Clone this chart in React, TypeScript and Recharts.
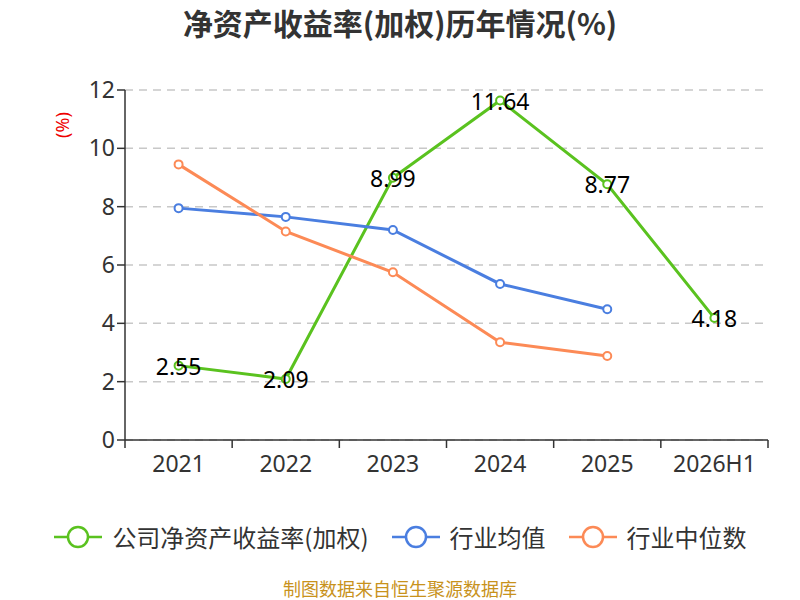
import React from "react";
import { LineChart, Line, XAxis, YAxis, CartesianGrid, LabelList } from "recharts";

const categories = ["2021", "2022", "2023", "2024", "2025", "2026H1"];
const companyRoe = [2.55, 2.09, 8.99, 11.64, 8.77, 4.18];
const industryAvg = [7.95, 7.65, 7.2, 5.35, 4.48, null];
const industryMedian = [9.45, 7.15, 5.75, 3.35, 2.88, null];
const yTicks = [0, 2, 4, 6, 8, 10, 12];

const seriesNames = ["公司净资产收益率(加权)", "行业均值", "行业中位数"];
const colors = ["#5ac21f", "#4a7ee0", "#fc8a56"];

const data = categories.map((c, i) => ({
  name: c,
  company: companyRoe[i],
  avg: industryAvg[i],
  median: industryMedian[i],
}));

const W = 800;
const H = 600;
const margin = { top: 90, right: 32, left: 65, bottom: 120 };
const yAxisWidth = 60;
const plotWidth = W - margin.left - margin.right - yAxisWidth;
const halfBand = plotWidth / categories.length / 2;
const FONT = "'Noto Sans', 'Noto Sans CJK SC', sans-serif";
const CJK = "'Noto Sans CJK SC', sans-serif";

const XTick = (props: any) => {
  const { x, y, payload, index } = props;
  const isLast = index === categories.length - 1;
  return (
    <g>
      <line x1={x - halfBand} x2={x - halfBand} y1={y - 8} y2={y} stroke="#333" strokeWidth={1.5} />
      {isLast && (
        <line x1={x + halfBand} x2={x + halfBand} y1={y - 8} y2={y} stroke="#333" strokeWidth={1.5} />
      )}
      <text x={x} y={y + 24} textAnchor="middle" fill="#333" fontSize={23} fontFamily={FONT}>
        {payload.value}
      </text>
    </g>
  );
};

const PointLabel = (props: any) => {
  const { x, y, value } = props;
  if (value === null || value === undefined) return null;
  return (
    <text x={x} y={y} textAnchor="middle" dominantBaseline="central" fill="#000" fontSize={23} fontFamily={FONT}>
      {value}
    </text>
  );
};

const YLabel = () => (
  <text
    x={62}
    y={125}
    transform="rotate(-90 62 125)"
    textAnchor="middle"
    dominantBaseline="central"
    fill="#e00"
    fontSize={18}
    fontFamily={FONT}
  >
    (%)
  </text>
);

const dotProps = (color: string) => ({ r: 4, fill: "#fff", stroke: color, strokeWidth: 2 });

export default function App() {
  return (
    <div style={{ position: "absolute", left: 0, top: 0, width: W, height: H, background: "#fff", fontFamily: FONT }}>
      <div
        style={{
          position: "absolute",
          top: 2,
          left: 0,
          width: W,
          textAlign: "center",
          fontSize: 30,
          lineHeight: "40px",
          fontWeight: "bold",
          color: "#333",
          fontFamily: CJK,
        }}
      >
        净资产收益率(加权)历年情况(%)
      </div>
      <LineChart width={W} height={H} data={data} margin={margin}>
        <CartesianGrid horizontal vertical={false} stroke="#c8c8c8" strokeDasharray="8 6" strokeWidth={1.5} />
        <XAxis
          dataKey="name"
          axisLine={{ stroke: "#333", strokeWidth: 1.5 }}
          tickLine={false}
          tick={<XTick />}
          interval={0}
          height={40}
          padding={{ left: halfBand, right: halfBand }}
        />
        <YAxis
          domain={[0, 12]}
          ticks={yTicks}
          width={yAxisWidth}
          axisLine={{ stroke: "#333", strokeWidth: 1.5 }}
          tickLine={{ stroke: "#333", strokeWidth: 1.5 }}
          tickSize={8}
          tick={{ fill: "#333", fontSize: 23, fontFamily: FONT }}
          label={<YLabel />}
        />
        <Line
          type="linear"
          dataKey="company"
          stroke={colors[0]}
          strokeWidth={3}
          dot={dotProps(colors[0])}
          isAnimationActive={false}
        >
          <LabelList dataKey="company" content={<PointLabel />} />
        </Line>
        <Line
          type="linear"
          dataKey="avg"
          stroke={colors[1]}
          strokeWidth={3}
          dot={dotProps(colors[1])}
          isAnimationActive={false}
        />
        <Line
          type="linear"
          dataKey="median"
          stroke={colors[2]}
          strokeWidth={3}
          dot={dotProps(colors[2])}
          isAnimationActive={false}
        />
      </LineChart>
      <div
        style={{
          position: "absolute",
          top: 518,
          left: 0,
          width: W,
          display: "flex",
          justifyContent: "center",
          alignItems: "center",
          fontSize: 24,
          lineHeight: "38px",
          color: "#333",
          fontFamily: CJK,
        }}
      >
        {seriesNames.map((n, i) => (
          <div key={n} style={{ display: "flex", alignItems: "center", marginLeft: i === 0 ? 0 : 22 }}>
            <svg width={50} height={30}>
              <line x1={1} x2={49} y1={15} y2={15} stroke={colors[i]} strokeWidth={2.5} />
              <circle cx={25} cy={15} r={10} fill="#fff" stroke={colors[i]} strokeWidth={2.5} />
            </svg>
            <span style={{ marginLeft: 9 }}>{n}</span>
          </div>
        ))}
      </div>
      <div
        style={{
          position: "absolute",
          top: 577,
          left: 0,
          width: W,
          textAlign: "center",
          fontSize: 18,
          lineHeight: "22px",
          color: "#c8921c",
          fontFamily: CJK,
        }}
      >
        制图数据来自恒生聚源数据库
      </div>
    </div>
  );
}
